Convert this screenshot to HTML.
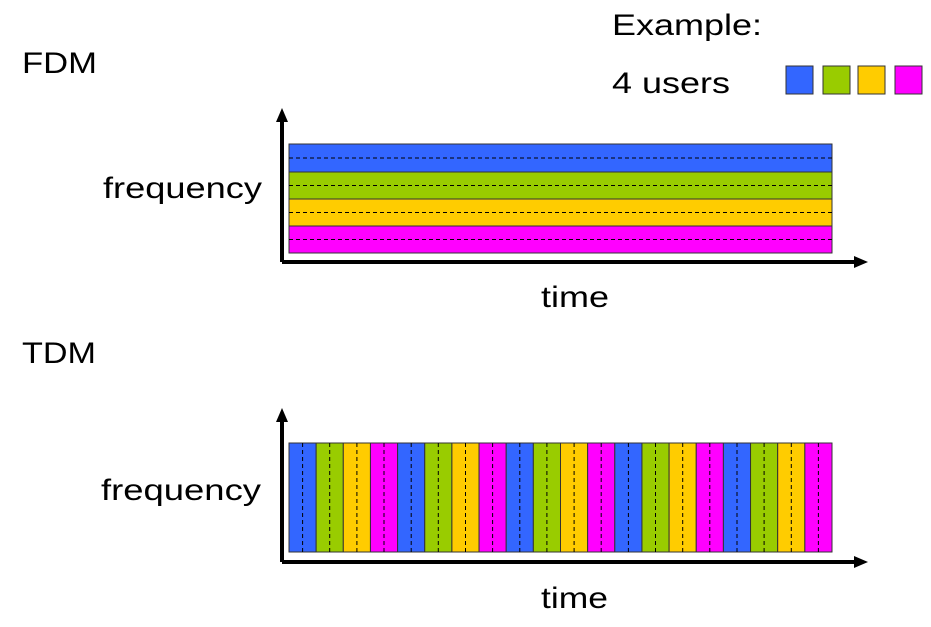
<!DOCTYPE html>
<html><head><meta charset="utf-8"><style>html,body{margin:0;padding:0;background:#fff}svg{display:block}</style></head>
<body>
<svg width="931" height="627" viewBox="0 0 931 627" xmlns="http://www.w3.org/2000/svg" font-family="Liberation Sans, sans-serif" font-size="30" fill="#000">
<text x="612" y="35" textLength="150" lengthAdjust="spacingAndGlyphs">Example:</text>
<text x="612" y="93" textLength="118" lengthAdjust="spacingAndGlyphs">4 users</text>
<text x="22" y="73" textLength="75" lengthAdjust="spacingAndGlyphs">FDM</text>
<text x="22" y="363" textLength="74" lengthAdjust="spacingAndGlyphs">TDM</text>
<text x="103" y="198" textLength="159" lengthAdjust="spacingAndGlyphs">frequency</text>
<text x="101" y="500" textLength="160" lengthAdjust="spacingAndGlyphs">frequency</text>
<text x="541" y="307" textLength="68" lengthAdjust="spacingAndGlyphs">time</text>
<text x="541" y="608" textLength="67" lengthAdjust="spacingAndGlyphs">time</text>
<g stroke="#333" stroke-width="1">
<rect x="786" y="66" width="27" height="28" fill="#3366ff"/>
<rect x="823" y="66" width="27" height="28" fill="#99cc00"/>
<rect x="858" y="66" width="27" height="28" fill="#ffcc00"/>
<rect x="895" y="66" width="27" height="28" fill="#ff00ff"/>
</g>
<g stroke="#333" stroke-width="1">
<rect x="289" y="144" width="543" height="28" fill="#3366ff"/>
<rect x="289" y="172" width="543" height="27" fill="#99cc00"/>
<rect x="289" y="199" width="543" height="27" fill="#ffcc00"/>
<rect x="289" y="226" width="543" height="27" fill="#ff00ff"/>
</g>
<g stroke="#000" stroke-width="1" stroke-dasharray="4,3">
<line x1="289" y1="158" x2="832" y2="158"/>
<line x1="289" y1="185.5" x2="832" y2="185.5"/>
<line x1="289" y1="212.5" x2="832" y2="212.5"/>
<line x1="289" y1="239.5" x2="832" y2="239.5"/>
</g>
<path d="M282,262V120M282,262H858" stroke="#000" stroke-width="4" fill="none"/>
<polygon points="282,108 276,122 288,122"/>
<polygon points="868,262 854,256 854,268"/>
<g stroke="#333" stroke-width="1">
<rect x="289.00" y="443" width="27.15" height="109" fill="#3366ff"/>
<rect x="316.15" y="443" width="27.15" height="109" fill="#99cc00"/>
<rect x="343.30" y="443" width="27.15" height="109" fill="#ffcc00"/>
<rect x="370.45" y="443" width="27.15" height="109" fill="#ff00ff"/>
<rect x="397.60" y="443" width="27.15" height="109" fill="#3366ff"/>
<rect x="424.75" y="443" width="27.15" height="109" fill="#99cc00"/>
<rect x="451.90" y="443" width="27.15" height="109" fill="#ffcc00"/>
<rect x="479.05" y="443" width="27.15" height="109" fill="#ff00ff"/>
<rect x="506.20" y="443" width="27.15" height="109" fill="#3366ff"/>
<rect x="533.35" y="443" width="27.15" height="109" fill="#99cc00"/>
<rect x="560.50" y="443" width="27.15" height="109" fill="#ffcc00"/>
<rect x="587.65" y="443" width="27.15" height="109" fill="#ff00ff"/>
<rect x="614.80" y="443" width="27.15" height="109" fill="#3366ff"/>
<rect x="641.95" y="443" width="27.15" height="109" fill="#99cc00"/>
<rect x="669.10" y="443" width="27.15" height="109" fill="#ffcc00"/>
<rect x="696.25" y="443" width="27.15" height="109" fill="#ff00ff"/>
<rect x="723.40" y="443" width="27.15" height="109" fill="#3366ff"/>
<rect x="750.55" y="443" width="27.15" height="109" fill="#99cc00"/>
<rect x="777.70" y="443" width="27.15" height="109" fill="#ffcc00"/>
<rect x="804.85" y="443" width="27.15" height="109" fill="#ff00ff"/>
</g>
<g stroke="#000" stroke-width="1" stroke-dasharray="4,3">
<line x1="302.6" y1="443" x2="302.6" y2="552"/>
<line x1="329.7" y1="443" x2="329.7" y2="552"/>
<line x1="356.9" y1="443" x2="356.9" y2="552"/>
<line x1="384.0" y1="443" x2="384.0" y2="552"/>
<line x1="411.2" y1="443" x2="411.2" y2="552"/>
<line x1="438.3" y1="443" x2="438.3" y2="552"/>
<line x1="465.5" y1="443" x2="465.5" y2="552"/>
<line x1="492.6" y1="443" x2="492.6" y2="552"/>
<line x1="519.8" y1="443" x2="519.8" y2="552"/>
<line x1="546.9" y1="443" x2="546.9" y2="552"/>
<line x1="574.1" y1="443" x2="574.1" y2="552"/>
<line x1="601.2" y1="443" x2="601.2" y2="552"/>
<line x1="628.4" y1="443" x2="628.4" y2="552"/>
<line x1="655.5" y1="443" x2="655.5" y2="552"/>
<line x1="682.7" y1="443" x2="682.7" y2="552"/>
<line x1="709.8" y1="443" x2="709.8" y2="552"/>
<line x1="737.0" y1="443" x2="737.0" y2="552"/>
<line x1="764.1" y1="443" x2="764.1" y2="552"/>
<line x1="791.3" y1="443" x2="791.3" y2="552"/>
<line x1="818.4" y1="443" x2="818.4" y2="552"/>
</g>
<path d="M282,562V420M282,562H858" stroke="#000" stroke-width="4" fill="none"/>
<polygon points="282,408 276,422 288,422"/>
<polygon points="868,562 854,556 854,568"/>
</svg>
</body></html>
